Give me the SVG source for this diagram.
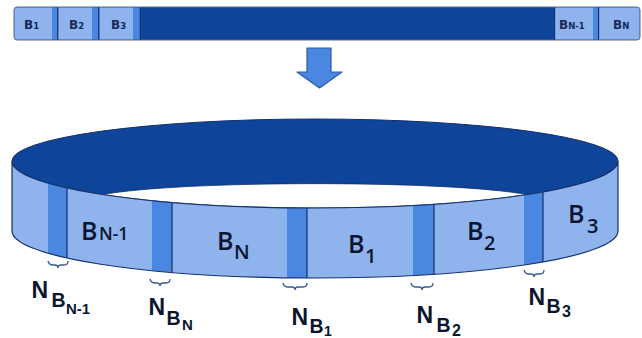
<svg xmlns="http://www.w3.org/2000/svg" width="642" height="338" viewBox="0 0 642 338">
<style>
.light{fill:#8fb3ec}
.stripe{fill:#4a87e0}
.navy{fill:#0f449b}
.sep{stroke:#14306a;stroke-width:1.2;fill:none}
.brace{stroke:#3a5a92;stroke-width:1.3;fill:none}
.tb{font-family:"DejaVu Sans",Verdana,sans-serif;font-weight:bold;fill:#15285a}
.rl{font-family:"Open Sans","Liberation Sans",sans-serif;font-weight:600;fill:#0a1630}
.nl{font-family:"Liberation Sans",Arial,sans-serif;font-weight:bold;fill:#0a1630}
</style>
<rect width="642" height="338" fill="#ffffff"/>

<g id="bar">
  <rect x="14" y="7" width="626" height="33" rx="3" class="navy" stroke="#5a6a86" stroke-width="1"/>
  <g id="bar-b1">
    <path d="M17,7.5 H52 V39.5 H17 Q14.5,39.5 14.5,37 V10 Q14.5,7.5 17,7.5 Z" class="light"/>
    <rect x="52" y="7.5" width="5.5" height="32" class="stripe"/>
    <line x1="57.8" y1="7.5" x2="57.8" y2="39.5" class="sep"/>
    <text class="tb" x="24" y="29" font-size="12">B<tspan font-size="8.5">1</tspan></text>
  </g>
  <g id="bar-b2">
    <rect x="58.4" y="7.5" width="33.6" height="32" class="light"/>
    <rect x="92" y="7.5" width="6.3" height="32" class="stripe"/>
    <line x1="98.9" y1="7.5" x2="98.9" y2="39.5" class="sep"/>
    <text class="tb" x="69" y="29" font-size="12">B<tspan font-size="8.5">2</tspan></text>
  </g>
  <g id="bar-b3">
    <rect x="99.5" y="7.5" width="33.5" height="32" class="light"/>
    <rect x="133" y="7.5" width="7" height="32" class="stripe"/>
    <line x1="140.3" y1="7.5" x2="140.3" y2="39.5" class="sep"/>
    <text class="tb" x="111" y="29" font-size="12">B<tspan font-size="8.5">3</tspan></text>
  </g>
  <g id="bar-bn1">
    <line x1="554.6" y1="7.5" x2="554.6" y2="39.5" class="sep"/>
    <rect x="555.2" y="7.5" width="37.8" height="32" class="light"/>
    <rect x="593" y="7.5" width="5.2" height="32" class="stripe"/>
    <line x1="598.6" y1="7.5" x2="598.6" y2="39.5" class="sep"/>
    <text class="tb" x="559" y="29" font-size="12">B<tspan font-size="8.5">N-1</tspan></text>
  </g>
  <g id="bar-bn">
    <path d="M599.2,7.5 H637 Q639.5,7.5 639.5,10 V37 Q639.5,39.5 637,39.5 H599.2 Z" class="light"/>
    <text class="tb" x="613" y="29" font-size="12">B<tspan font-size="8.5">N</tspan></text>
  </g>
</g>

<g id="arrow">
  <polygon points="307,48 331,48 331,72 342,72 319.5,88 297,72 307,72" fill="#4a87e0" stroke="#2c5aa8" stroke-width="1.2" stroke-linejoin="round"/>
</g>

<g id="ring">
  <path d="M12,161 A303,42 0 0 1 618,161 A303,47 0 0 1 12,161 Z" class="navy" stroke="#14306a" stroke-width="1"/>
  <path id="hole" d="M103,194.6 C180,180 450,180 527,194.6 A303,47 0 0 1 103,194.6 Z" fill="#ffffff" stroke="#14306a" stroke-width="0.8"/>
  <path id="band" d="M12,161 A303,47 0 0 0 618,161 L618,231 A303,47 0 0 1 12,231 Z" class="light"/>
  <g id="seg-bn2">
    <path d="M48,183.2 A303,47 0 0 0 67,188 L67,258 A303,47 0 0 1 48,253.2 Z" class="stripe"/>
    <line x1="67" y1="188" x2="67" y2="258" class="sep"/>
  </g>
  <g id="seg-bn1">
    <path d="M152,200.6 A303,47 0 0 0 172,202.4 L172,272.4 A303,47 0 0 1 152,270.6 Z" class="stripe"/>
    <line x1="172" y1="202.4" x2="172" y2="272.4" class="sep"/>
    <text class="rl" x="81" y="240" font-size="25">B<tspan x="99" font-size="17.5">N-1</tspan></text>
  </g>
  <g id="seg-bn">
    <path d="M287,207.8 A303,47 0 0 0 307,208 L307,278 A303,47 0 0 1 287,277.8 Z" class="stripe"/>
    <line x1="307" y1="208" x2="307" y2="278" class="sep"/>
    <text class="rl" x="217" y="250" font-size="25">B<tspan x="234" y="259" font-size="20">N</tspan></text>
  </g>
  <g id="seg-b1">
    <path d="M413,205.5 A303,47 0 0 0 434,204.2 L434,274.2 A303,47 0 0 1 413,275.5 Z" class="stripe"/>
    <line x1="434" y1="204.2" x2="434" y2="274.2" class="sep"/>
    <text class="rl" x="348" y="253" font-size="25">B<tspan x="365" y="263" font-size="20">1</tspan></text>
  </g>
  <g id="seg-b2">
    <path d="M524,195 A303,47 0 0 0 543,192 L543,262 A303,47 0 0 1 524,265 Z" class="stripe"/>
    <line x1="543" y1="192" x2="543" y2="262" class="sep"/>
    <text class="rl" x="467" y="240" font-size="25">B<tspan x="484" y="250" font-size="20">2</tspan></text>
  </g>
  <g id="seg-b3">
    <text class="rl" x="568" y="223" font-size="25">B<tspan x="587" y="233" font-size="20">3</tspan></text>
  </g>
  <path d="M12,161 A303,47 0 0 0 618,161 L618,231 A303,47 0 0 1 12,231 Z" fill="none" stroke="#14306a" stroke-width="1.2"/>
</g>

<g id="connectors">
  <path class="brace" d="M48,261 Q49,265 53,265 L55,265 Q58,265 58,268 Q58,265 61,265 L64,265 Q68,265 68,261"/>
  <path class="brace" d="M150,279 Q151,283 155,283 L157,283 Q160,283 160,286 Q160,283 163,283 L166,283 Q170,283 170,279"/>
  <path class="brace" d="M283,283 Q284,287 288,287 L292,287 Q295,287 295,290 Q295,287 298,287 L303,287 Q307,287 307,283"/>
  <path class="brace" d="M411,283 Q412,287 416,287 L419,287 Q422,287 422,290 Q422,287 425,287 L429,287 Q433,287 433,283"/>
  <path class="brace" d="M524,270 Q525,274 529,274 L531,274 Q534,274 534,277 Q534,274 537,274 L540,274 Q544,274 544,270"/>
</g>

<g id="labels">
  <text class="nl" x="31.5" y="298" font-size="23">N<tspan x="51.5" y="307" font-size="19.5">B</tspan><tspan x="66" y="314" font-size="15">N-1</tspan></text>
  <text class="nl" x="148.5" y="315" font-size="23">N<tspan x="166.5" y="325" font-size="19.5">B</tspan><tspan x="182" y="330" font-size="15">N</tspan></text>
  <text class="nl" x="291.5" y="325" font-size="23">N<tspan x="309.5" y="333" font-size="19.5">B</tspan><tspan x="324" y="335.5" font-size="14">1</tspan></text>
  <text class="nl" x="416.5" y="323" font-size="23">N<tspan x="436.5" y="332" font-size="19.5">B</tspan><tspan x="452" y="335.5" font-size="16">2</tspan></text>
  <text class="nl" x="528.5" y="305" font-size="23">N<tspan x="546.5" y="313" font-size="19.5">B</tspan><tspan x="562" y="317" font-size="16">3</tspan></text>
</g>
</svg>
